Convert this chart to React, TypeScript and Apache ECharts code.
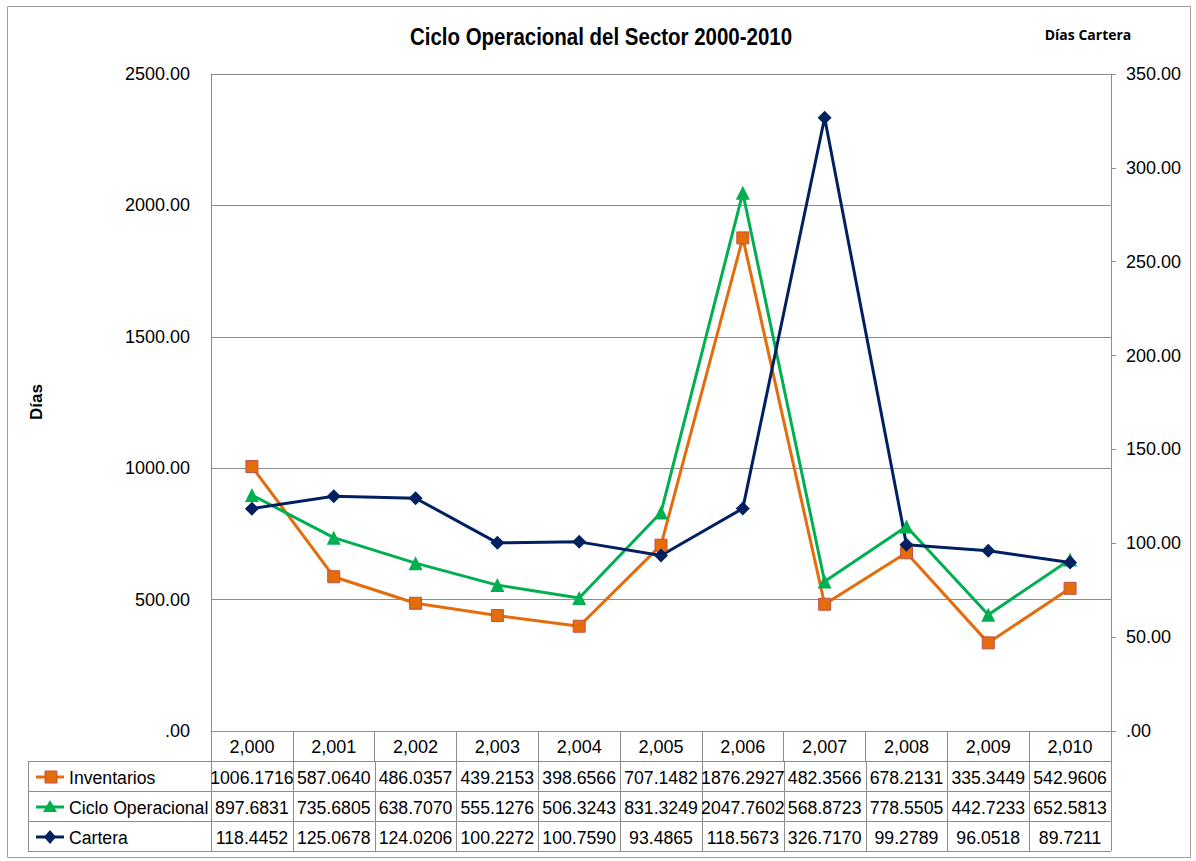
import React, { useEffect, useRef } from "react";
import * as echarts from "echarts";

const years = ["2,000", "2,001", "2,002", "2,003", "2,004", "2,005", "2,006", "2,007", "2,008", "2,009", "2,010"];
const inventarios = [1006.1716, 587.064, 486.0357, 439.2153, 398.6566, 707.1482, 1876.2927, 482.3566, 678.2131, 335.3449, 542.9606];
const cicloOperacional = [897.6831, 735.6805, 638.707, 555.1276, 506.3243, 831.3249, 2047.7602, 568.8723, 778.5505, 442.7233, 652.5813];
const cartera = [118.4452, 125.0678, 124.0206, 100.2272, 100.759, 93.4865, 118.5673, 326.717, 99.2789, 96.0518, 89.7211];
const seriesNames = ["Inventarios", "Ciclo Operacional", "Cartera"];

const FONT = "'Liberation Sans Narrow', 'Arial Narrow', 'Liberation Sans', Arial, sans-serif";
const ORANGE = "#E46C0A";
const GREEN = "#00B050";
const NAVY = "#002060";
const GRAYLINE = "#8c8c8c";

const fmt = (v: number) => (v === 0 ? ".00" : v.toFixed(2));

export default function App() {
  const ref = useRef<HTMLDivElement>(null);
  useEffect(() => {
    if (!ref.current) return;
    const chart = echarts.init(ref.current, null, { renderer: "svg" });
    const L = 211, R = 1111, T = 74, B = 731;
    const n = years.length;
    const cw = (R - L) / n;
    const tableLeft = 28;
    const rowTops = [761, 791, 821, 851];
    const datasets = [inventarios, cicloOperacional, cartera];
    const colors = [ORANGE, GREEN, NAVY];
    const graphics: any[] = [];
    // outer border
    graphics.push({ type: "rect", shape: { x: 7.5, y: 6.5, width: 1183, height: 851 }, style: { fill: "none", stroke: "#a0a0a0", lineWidth: 1 }, silent: true });
    // title
    graphics.push({ type: "text", x: 601, y: 37, scaleX: 0.89, style: { text: "Ciclo Operacional del Sector 2000-2010", font: `bold 23px ${FONT}`, fill: "#000", textAlign: "center", textVerticalAlign: "middle" } });
    // table horizontal lines
    rowTops.forEach((y) => {
      graphics.push({ type: "line", shape: { x1: tableLeft, y1: y + 0.5, x2: R, y2: y + 0.5 }, style: { stroke: GRAYLINE, lineWidth: 1 } });
    });
    // table vertical lines
    graphics.push({ type: "line", shape: { x1: tableLeft + 0.5, y1: rowTops[0], x2: tableLeft + 0.5, y2: rowTops[3] }, style: { stroke: GRAYLINE, lineWidth: 1 } });
    for (let i = 0; i <= n; i++) {
      const x = Math.round(L + i * cw) + 0.5;
      graphics.push({ type: "line", shape: { x1: x, y1: rowTops[0], x2: x, y2: rowTops[3] }, style: { stroke: GRAYLINE, lineWidth: 1 } });
    }
    // rows
    datasets.forEach((arr, r) => {
      const cy = (rowTops[r] + rowTops[r + 1]) / 2 + 1;
      graphics.push({ type: "line", shape: { x1: 36, y1: cy, x2: 64, y2: cy }, style: { stroke: colors[r], lineWidth: 3 } });
      if (r === 0) {
        graphics.push({ type: "rect", shape: { x: 45, y: cy - 6, width: 12, height: 12 }, style: { fill: ORANGE, stroke: "#C0504D", lineWidth: 1 } });
      } else if (r === 1) {
        graphics.push({ type: "polygon", shape: { points: [[50, cy - 7], [57, cy + 5], [43, cy + 5]] }, style: { fill: GREEN } });
      } else {
        graphics.push({ type: "polygon", shape: { points: [[50, cy - 7], [56, cy], [50, cy + 7], [44, cy]] }, style: { fill: NAVY } });
      }
      graphics.push({ type: "text", x: 69, y: cy, scaleX: 0.93, style: { text: seriesNames[r], font: `19px ${FONT}`, fill: "#000", textAlign: "left", textVerticalAlign: "middle" } });
      arr.forEach((v, i) => {
        graphics.push({ type: "text", x: L + (i + 0.5) * cw, y: cy, scaleX: 0.93, style: { text: v.toFixed(4), font: `19px ${FONT}`, fill: "#000", textAlign: "center", textVerticalAlign: "middle" } });
      });
    });
    // y axis name
    graphics.push({ type: "text", x: 36, y: 402, rotation: Math.PI / 2, style: { text: "Días", font: `bold 17px 'Liberation Sans', Arial, sans-serif`, fill: "#000", textAlign: "center", textVerticalAlign: "middle" } });
    // right axis name
    graphics.push({ type: "text", x: 1088, y: 34, style: { text: "Días Cartera", font: `bold 14px 'Open Sans', 'Liberation Sans', sans-serif`, fill: "#000", textAlign: "center", textVerticalAlign: "middle" } });

    chart.setOption({
      animation: false,
      backgroundColor: "#fff",
      grid: { left: L, right: 1196 - R, top: T, bottom: 861 - B, containLabel: false },
      xAxis: {
        type: "category",
        data: years,
        boundaryGap: true,
        axisLine: { show: true, lineStyle: { color: GRAYLINE } },
        axisTick: { show: true, interval: 0, length: 30, lineStyle: { color: GRAYLINE } },
        axisLabel: { interval: 0, margin: 7, fontFamily: FONT, fontSize: 18, color: "#000" },
      },
      yAxis: [
        {
          type: "value",
          min: 0,
          max: 2500,
          interval: 500,
          position: "left",
          axisLine: { show: true, lineStyle: { color: GRAYLINE } },
          axisTick: { show: false },
          splitLine: { show: true, lineStyle: { color: GRAYLINE } },
          axisLabel: { formatter: fmt, margin: 21, fontFamily: FONT, fontSize: 18, color: "#000" },
        },
        {
          type: "value",
          min: 0,
          max: 350,
          interval: 50,
          position: "right",
          axisLine: { show: true, lineStyle: { color: GRAYLINE } },
          axisTick: { show: true, length: 5, lineStyle: { color: GRAYLINE } },
          splitLine: { show: false },
          axisLabel: { formatter: fmt, margin: 15, fontFamily: FONT, fontSize: 18, color: "#000" },
        },
      ],
      series: [
        {
          name: seriesNames[0],
          type: "line",
          yAxisIndex: 0,
          data: inventarios,
          symbol: "rect",
          symbolSize: 12,
          lineStyle: { color: ORANGE, width: 3 },
          itemStyle: { color: ORANGE, borderColor: "#C0504D", borderWidth: 1 },
        },
        {
          name: seriesNames[1],
          type: "line",
          yAxisIndex: 0,
          data: cicloOperacional,
          symbol: "triangle",
          symbolSize: 14,
          lineStyle: { color: GREEN, width: 3 },
          itemStyle: { color: GREEN },
        },
        {
          name: seriesNames[2],
          type: "line",
          yAxisIndex: 1,
          data: cartera,
          symbol: "diamond",
          symbolSize: 14,
          lineStyle: { color: NAVY, width: 3 },
          itemStyle: { color: NAVY },
        },
      ],
      graphic: graphics,
    });
    return () => chart.dispose();
  }, []);
  return <div ref={ref} style={{ position: "fixed", left: 0, top: 0, width: 1196, height: 861 }} />;
}
